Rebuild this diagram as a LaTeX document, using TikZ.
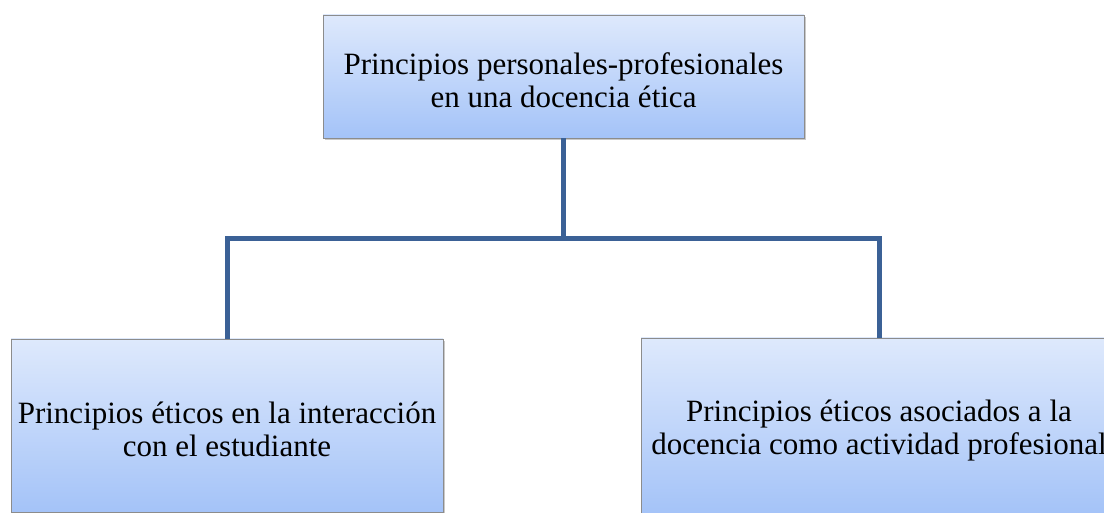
\documentclass[tikz,border=0pt]{standalone}
\usepackage{fontspec}
\setmainfont{Liberation Serif}
\usetikzlibrary{shadows}
\definecolor{conncol}{RGB}{59,97,150}
\definecolor{boxtop}{RGB}{222,233,252}
\definecolor{boxbot}{RGB}{164,195,248}
\definecolor{boxedge}{RGB}{140,140,140}
\tikzset{
  box/.style={rectangle, draw=boxedge, line width=0.9pt, top color=boxtop, bottom color=boxbot,
    drop shadow={shadow xshift=2pt, shadow yshift=-2pt, opacity=0.35, fill=black!60},
    inner sep=0pt},
  txt/.style={align=center, inner sep=0pt, font=\fontsize{31}{33}\selectfont},
  conn/.style={draw=conncol, line width=5pt, line join=miter, line cap=butt}
}
\begin{document}
\begin{tikzpicture}[x=1pt,y=1pt]
\useasboundingbox (0,0) rectangle (1104,513);
\clip (0,0) rectangle (1104,513);
\fill[white] (0,0) rectangle (1104,513);
\node[box, minimum width=481pt, minimum height=123pt] (top) at (563.5,436.5) {};
\node[box, minimum width=432pt, minimum height=173pt] (left) at (227,87.5) {};
\node[box, minimum width=476pt, minimum height=176pt] (right) at (879,87) {};
\node[txt] (toptext) at ([yshift=-4pt]top.center)
  {Principios personales-profesionales\\en una docencia ética};
\node[txt] (lefttext) at ([yshift=-3.5pt]left.center)
  {Principios éticos en la interacción\\con el estudiante};
\node[txt] (righttext) at ([yshift=-5pt]right.center)
  {Principios éticos asociados a la\\docencia como actividad profesional};
\coordinate (j) at (563.5,274);
\draw[conn] (top.south) -- (j);
\draw[conn] (left.north) |- (j) -| (right.north);
\end{tikzpicture}
\end{document}
